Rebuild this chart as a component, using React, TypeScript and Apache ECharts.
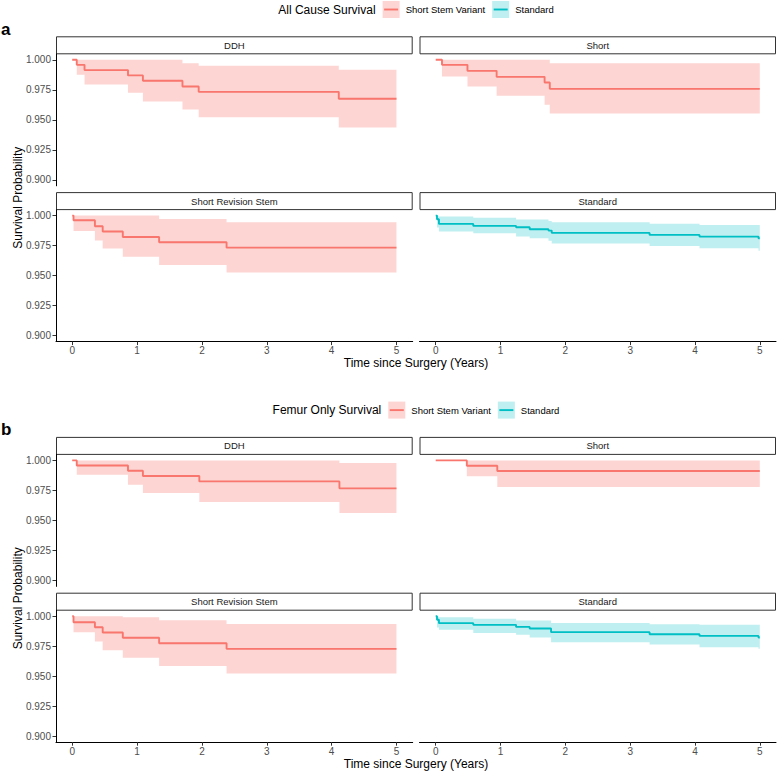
import React, { useEffect, useRef } from 'react';
import * as echarts from 'echarts';

const FONT = "'Liberation Sans', Arial, Helvetica, sans-serif";
const RED = '#F8766D';
const TEAL = '#00BFC4';
const RED_BAND = 'rgba(248,118,109,0.3)';
const TEAL_BAND = 'rgba(0,191,196,0.25)';

const PLOT_TITLES = ['All Cause Survival', 'Femur Only Survival'];
const PLOT_TAGS = ['a', 'b'];
const FACETS = ['DDH', 'Short', 'Short Revision Stem', 'Standard'];
const GROUPS = ['Short Stem Variant', 'Standard'];
const X_TICKS = [0, 1, 2, 3, 4, 5];
const Y_TICKS = [0.9, 0.925, 0.95, 0.975, 1.0];
const X_TITLE = 'Time since Surgery (Years)';
const Y_TITLE = 'Survival Probability';

// ---- All cause survival ----
const allDdhTime = [0, 0.07, 0.19, 0.86, 1.09, 1.7, 1.95, 4.11, 5];
const allDdhSurv = [1, 0.9958, 0.9914, 0.987, 0.9825, 0.9778, 0.9733, 0.9675, 0.9675];
const allDdhLower = [1, 0.9875, 0.9794, 0.9725, 0.9653, 0.9586, 0.9522, 0.9436, 0.9436];
const allDdhUpper = [1, 1, 1, 1, 1, 0.9972, 0.995, 0.9917, 0.9917];

const allShortTime = [0, 0.097, 0.49, 0.94, 1.68, 1.76, 5];
const allShortSurv = [1, 0.9958, 0.9908, 0.9858, 0.9811, 0.9758, 0.9758];
const allShortLower = [1, 0.9861, 0.9778, 0.97, 0.9625, 0.9553, 0.9553];
const allShortUpper = [1, 1, 1, 1, 1, 0.9972, 0.9972];

const allSrsTime = [0, 0.02, 0.35, 0.47, 0.78, 1.34, 2.38, 5];
const allSrsSurv = [1, 0.9961, 0.9911, 0.9867, 0.9822, 0.9778, 0.9733, 0.9733];
const allSrsLower = [1, 0.9872, 0.9792, 0.9725, 0.9658, 0.9589, 0.9525, 0.9525];
const allSrsUpper = [1, 1, 1, 1, 1, 0.9972, 0.9944, 0.9944];

const allStdTime = [0, 0.02, 0.05, 0.58, 1.24, 1.45, 1.74, 1.79, 3.3, 4.07, 4.98, 5];
const allStdSurv = [1, 0.997, 0.9931, 0.9914, 0.9903, 0.9886, 0.9875, 0.9856, 0.9839, 0.9825, 0.9811, 0.9811];
const allStdLower = [1, 0.99, 0.9867, 0.9853, 0.9825, 0.9811, 0.979, 0.9767, 0.9747, 0.9728, 0.9708, 0.9708];
const allStdUpper = [1, 0.9995, 0.9992, 0.9983, 0.9967, 0.9967, 0.9955, 0.9944, 0.9933, 0.9922, 0.9922, 0.9922];

// ---- Femur only survival ----
const femDdhTime = [0, 0.07, 0.86, 1.09, 1.96, 4.12, 5];
const femDdhSurv = [1, 0.9958, 0.9914, 0.987, 0.9825, 0.9767, 0.9767];
const femDdhLower = [1, 0.988, 0.9797, 0.9728, 0.9653, 0.9561, 0.9561];
const femDdhUpper = [1, 1, 1, 1, 1, 0.9978, 0.9978];

const femShortTime = [0, 0.48, 0.95, 5];
const femShortSurv = [1, 0.9956, 0.9912, 0.9912];
const femShortLower = [1, 0.9867, 0.9778, 0.9778];
const femShortUpper = [1, 1, 1, 1];

const femSrsTime = [0, 0.02, 0.35, 0.47, 0.78, 1.34, 2.38, 5];
const femSrsSurv = [1, 0.995, 0.9908, 0.9864, 0.982, 0.9775, 0.9728, 0.9728];
const femSrsLower = [1, 0.9867, 0.9789, 0.9717, 0.9653, 0.9586, 0.9522, 0.9522];
const femSrsUpper = [1, 1, 1, 1, 0.9992, 0.9967, 0.9936, 0.9936];

const femStdTime = [0, 0.02, 0.05, 0.58, 1.24, 1.45, 1.78, 3.3, 4.07, 4.98, 5];
const femStdSurv = [1, 0.997, 0.9942, 0.9928, 0.9911, 0.9897, 0.9867, 0.985, 0.9836, 0.9822, 0.9822];
const femStdLower = [1, 0.9905, 0.9887, 0.9861, 0.9845, 0.9822, 0.9783, 0.9764, 0.9742, 0.9728, 0.9728];
const femStdUpper = [1, 0.9995, 0.9992, 0.9978, 0.9964, 0.9964, 0.9944, 0.9933, 0.9928, 0.9928, 0.9928];

type Panel = { facet: string; group: number; time: number[]; surv: number[]; lower: number[]; upper: number[] };

const PANELS: Panel[] = [
  { facet: FACETS[0], group: 0, time: allDdhTime, surv: allDdhSurv, lower: allDdhLower, upper: allDdhUpper },
  { facet: FACETS[1], group: 0, time: allShortTime, surv: allShortSurv, lower: allShortLower, upper: allShortUpper },
  { facet: FACETS[2], group: 0, time: allSrsTime, surv: allSrsSurv, lower: allSrsLower, upper: allSrsUpper },
  { facet: FACETS[3], group: 1, time: allStdTime, surv: allStdSurv, lower: allStdLower, upper: allStdUpper },
  { facet: FACETS[0], group: 0, time: femDdhTime, surv: femDdhSurv, lower: femDdhLower, upper: femDdhUpper },
  { facet: FACETS[1], group: 0, time: femShortTime, surv: femShortSurv, lower: femShortLower, upper: femShortUpper },
  { facet: FACETS[2], group: 0, time: femSrsTime, surv: femSrsSurv, lower: femSrsLower, upper: femSrsUpper },
  { facet: FACETS[3], group: 1, time: femStdTime, surv: femStdSurv, lower: femStdLower, upper: femStdUpper },
];

// ---- layout ----
const W = 777;
const H = 771;
const PLOT_OFFSET = [0, 400.6];
const ROW_TOP = [53.8, 209.6];
const COL_LEFT = [56, 419.5];
const COL_WIDTH = [356.7, 356.5];
const PANEL_H = 132;
const STRIP_H = 17;
const CENTER_X = 416;

function bandPoints(time: number[], lower: number[], upper: number[]) {
  const top: number[][] = [];
  const bot: number[][] = [];
  for (let k = 0; k < time.length - 1; k++) {
    top.push([time[k], upper[k]], [time[k + 1], upper[k]]);
    bot.push([time[k], lower[k]], [time[k + 1], lower[k]]);
  }
  return top.concat(bot.reverse());
}

function textEl(text: string, x: number, y: number, size: number, color: string, align = 'left', extra: any = {}) {
  return {
    type: 'text',
    x,
    y,
    silent: true,
    ...extra,
    style: {
      text,
      fontSize: size,
      fontFamily: FONT,
      fontWeight: extra.fontWeight || 'normal',
      fill: color,
      align,
      verticalAlign: 'middle',
      textAlign: align,
      textVerticalAlign: 'middle',
    },
  };
}

export default function App() {
  const ref = useRef<HTMLDivElement>(null);

  useEffect(() => {
    document.body.style.margin = '0';
    if (!ref.current) return;
    const chart = echarts.init(ref.current, undefined, { renderer: 'svg' });

    const canvas = document.createElement('canvas');
    const ctx = canvas.getContext('2d')!;
    const tw = (t: string, size: number) => {
      ctx.font = `${size}px ${FONT}`;
      return ctx.measureText(t).width;
    };

    const grids: any[] = [];
    const xAxes: any[] = [];
    const yAxes: any[] = [];
    const series: any[] = [];
    const graphics: any[] = [];

    PANELS.forEach((p, i) => {
      const plot = Math.floor(i / 4);
      const row = Math.floor(i / 2) % 2;
      const col = i % 2;
      const left = COL_LEFT[col];
      const width = COL_WIDTH[col];
      const top = PLOT_OFFSET[plot] + ROW_TOP[row];
      grids.push({ left, top, width, height: PANEL_H, containLabel: false, show: false });
      xAxes.push({
        type: 'value',
        gridIndex: i,
        min: -0.25,
        max: 5.25,
        show: row === 1,
        axisLine: { show: true, onZero: false, lineStyle: { color: '#000', width: 1 } },
        axisTick: { show: true, length: 3.5, customValues: X_TICKS, lineStyle: { color: '#333', width: 1 } },
        axisLabel: { customValues: X_TICKS, margin: 4, color: '#4d4d4d', fontSize: 10, fontFamily: FONT },
        splitLine: { show: false },
      });
      yAxes.push({
        type: 'value',
        gridIndex: i,
        min: 0.895,
        max: 1.005,
        show: col === 0,
        axisLine: { show: true, onZero: false, lineStyle: { color: '#000', width: 1 } },
        axisTick: { show: true, length: 3.5, customValues: Y_TICKS, lineStyle: { color: '#333', width: 1 } },
        axisLabel: {
          customValues: Y_TICKS,
          margin: 5,
          color: '#4d4d4d',
          fontSize: 10,
          fontFamily: FONT,
          formatter: (v: number) => v.toFixed(3),
        },
        splitLine: { show: false },
      });
      const band = p.group === 0 ? RED_BAND : TEAL_BAND;
      const color = p.group === 0 ? RED : TEAL;
      const pts = bandPoints(p.time, p.lower, p.upper);
      series.push({
        type: 'custom',
        name: GROUPS[p.group] + ' CI',
        xAxisIndex: i,
        yAxisIndex: i,
        silent: true,
        z: 1,
        data: [[2.5, 0.95]],
        encode: { x: 0, y: 1 },
        renderItem: (params: any, api: any) => {
          if (params.dataIndex !== 0) return null;
          return {
            type: 'polygon',
            shape: { points: pts.map((pt) => api.coord(pt)) },
            style: { fill: band, stroke: null },
          };
        },
      });
      series.push({
        type: 'line',
        name: GROUPS[p.group],
        xAxisIndex: i,
        yAxisIndex: i,
        step: 'end',
        showSymbol: false,
        symbol: 'none',
        silent: true,
        z: 3,
        lineStyle: { color, width: 1.9 },
        data: p.time.map((t, k) => [t, p.surv[k]]),
      });
      // strip
      graphics.push({
        type: 'rect',
        silent: true,
        shape: { x: left + 0.5, y: top - STRIP_H, width: width - 1, height: STRIP_H },
        style: { fill: '#ffffff', stroke: '#333333', lineWidth: 1 },
      });
      graphics.push(textEl(p.facet, left + width / 2, top - STRIP_H / 2, 9.5, '#1a1a1a', 'center'));
    });

    // titles, tags, legends per plot
    [0, 1].forEach((plot) => {
      const off = PLOT_OFFSET[plot];
      graphics.push(textEl(PLOT_TAGS[plot], 1, off + 29, 17, '#000', 'left', { fontWeight: 'bold' }));
      const panelTop = off + ROW_TOP[0];
      const panelBottom = off + ROW_TOP[1] + PANEL_H;
      graphics.push(
        textEl(Y_TITLE, 17.5, (panelTop + panelBottom) / 2, 12, '#000', 'center', { rotation: Math.PI / 2 })
      );
      graphics.push(textEl(X_TITLE, CENTER_X, off + 363, 12, '#000', 'center'));

      // legend
      const title = PLOT_TITLES[plot];
      const wT = tw(title, 12);
      const w1 = tw(GROUPS[0], 9.5);
      const w2 = tw(GROUPS[1], 9.5);
      const KEY = 17;
      const total = wT + 7 + KEY + 6 + w1 + 7 + KEY + 6 + w2;
      let x = CENTER_X - total / 2;
      const cy = off + 9.5;
      graphics.push(textEl(title, x, cy, 12, '#000'));
      x += wT + 7;
      const colors = [RED, TEAL];
      const bands = [RED_BAND, TEAL_BAND];
      [0, 1].forEach((g) => {
        graphics.push({
          type: 'rect',
          silent: true,
          shape: { x, y: cy - KEY / 2, width: KEY, height: KEY },
          style: { fill: bands[g] },
        });
        graphics.push({
          type: 'line',
          silent: true,
          shape: { x1: x + 1.5, y1: cy, x2: x + KEY - 1.5, y2: cy },
          style: { stroke: colors[g], lineWidth: 1.9 },
        });
        x += KEY + 6;
        graphics.push(textEl(GROUPS[g], x, cy, 9.5, '#000'));
        x += (g === 0 ? w1 : w2) + 7;
      });
    });

    chart.setOption({
      animation: false,
      backgroundColor: '#ffffff',
      grid: grids,
      xAxis: xAxes,
      yAxis: yAxes,
      series,
      graphic: { elements: graphics },
    });

    return () => chart.dispose();
  }, []);

  return <div ref={ref} style={{ width: W, height: H }} />;
}
